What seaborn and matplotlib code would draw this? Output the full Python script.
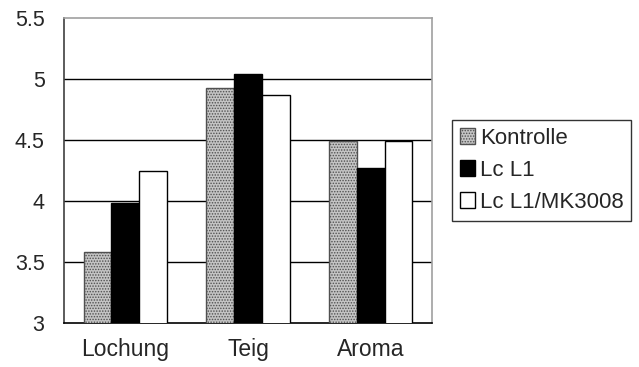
import matplotlib
matplotlib.use("Agg")
import matplotlib.pyplot as plt
import seaborn as sns
import pandas as pd

categories = ["Lochung", "Teig", "Aroma"]
series = ["Kontrolle", "Lc L1", "Lc L1/MK3008"]
kontrolle = [3.58, 4.93, 4.49]
lc_l1 = [3.98, 5.04, 4.27]
lc_l1_mk = [4.25, 4.87, 4.49]
y_ticks = [3, 3.5, 4, 4.5, 5, 5.5]

sns.set_theme(style="white")
plt.rcParams["font.family"] = ["Liberation Sans", "DejaVu Sans"]
plt.rcParams["hatch.linewidth"] = 0.7

rows = []
for name, vals in zip(series, [kontrolle, lc_l1, lc_l1_mk]):
    for cat, v in zip(categories, vals):
        rows.append({"cat": cat, "series": name, "value": v})
df = pd.DataFrame(rows)

fig = plt.figure(figsize=(6.39, 3.67), dpi=100)
ax = fig.add_axes([64 / 639, 44 / 367, 368 / 639, 305 / 367])

palette = {"Kontrolle": "#c4c4c4", "Lc L1": "black", "Lc L1/MK3008": "white"}
sns.barplot(data=df, x="cat", y="value", hue="series", palette=palette,
            width=0.68, edgecolor="black", linewidth=1.0, saturation=1,
            ax=ax, zorder=3)

# grey dotted fill for the control bars
for p in ax.containers[0]:
    p.set_hatch("......")
    p.set_edgecolor("#505050")

ax.set_ylim(3, 5.5)
ax.set_xlim(-0.5, 2.5)
ax.set_yticks(y_ticks)
ax.set_yticklabels(["3", "3.5", "4", "4.5", "5", "5.5"])
for y in y_ticks[1:-1]:
    ax.axhline(y, color="black", lw=1.0, zorder=1)

ax.set_xticks([-0.5, 0.5, 1.5, 2.5])
ax.set_xticklabels([])
ax.set_xticks([0, 1, 2], minor=True)
ax.set_xticklabels(categories, minor=True)
ax.tick_params(axis="x", which="major", direction="out", length=6, color="black", width=1)
ax.tick_params(axis="x", which="minor", length=0, pad=11, labelsize=16.5)
ax.tick_params(axis="y", direction="out", length=6, color="black", width=1, labelsize=15.5, pad=8)
ax.set_xlabel("")
ax.set_ylabel("")

ax.spines["left"].set_color("#404040")
ax.spines["bottom"].set_color("black")
ax.spines["top"].set_color("#a0a0a0")
ax.spines["right"].set_color("#a0a0a0")
for s in ax.spines.values():
    s.set_linewidth(1.2)

handles, labels = ax.get_legend_handles_labels()
handles[0].set_hatch("......")
handles[0].set_edgecolor("#505050")
leg = ax.legend(handles, labels, loc="upper left", bbox_to_anchor=(452 / 639, 1 - 120 / 367),
                bbox_transform=fig.transFigure, frameon=True, fancybox=False,
                edgecolor="black", fontsize=16, handlelength=0.7, handleheight=0.7,
                handletextpad=0.2, borderpad=0.35, labelspacing=0.5, borderaxespad=0)
leg.get_frame().set_linewidth(1.0)

fig.savefig("out.png", dpi=100)
